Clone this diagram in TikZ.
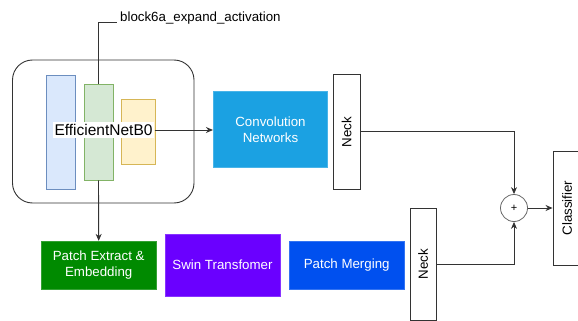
\documentclass[tikz,border=0pt]{standalone}
\usepackage{fontspec}
\setmainfont{Liberation Sans}
\usetikzlibrary{arrows.meta}

\definecolor{lineC}{HTML}{333333}
\definecolor{barBlueF}{HTML}{DAE8FC}\definecolor{barBlueD}{HTML}{6C8EBF}
\definecolor{barGreenF}{HTML}{D5E8D4}\definecolor{barGreenD}{HTML}{82B366}
\definecolor{barYellowF}{HTML}{FFF2CC}\definecolor{barYellowD}{HTML}{D6B656}
\definecolor{convC}{HTML}{1BA1E2}
\definecolor{extractC}{HTML}{008A00}
\definecolor{swinC}{HTML}{6A00FF}
\definecolor{mergeC}{HTML}{0050EF}
\definecolor{circC}{HTML}{666666}

\tikzset{
  x=1pt, y=-1pt,
  every node/.style={font=\fontsize{13.3}{16}\selectfont, inner sep=0pt, align=center},
  conn/.style={draw=lineC, line width=0.9pt},
  arr/.style={conn, -{Stealth[length=7pt,width=6pt]}},
  bar/.style={draw=#1D, fill=#1F, line width=0.9pt},
  solid box/.style={fill=#1, draw=#1!80!white, line width=0.6pt, text=white},
  plain box/.style={draw=lineC, fill=white, line width=0.9pt},
}

\begin{document}
\begin{tikzpicture}
\useasboundingbox (0,0) rectangle (578,321);

% backbone frame with its three stages
\node (frame) [draw=lineC, line width=0.9pt, rounded corners=20pt,
  minimum width=181.5, minimum height=143] at (103.25,131.5) {};
\node (stageA) [bar=barBlue, minimum width=29, minimum height=114] at (60.5,132) {};
\node (stageB) [bar=barGreen, minimum width=29, minimum height=96] at (98.5,132) {};
\node (stageC) [bar=barYellow, minimum width=34, minimum height=64.5] at (138,132) {};
\node (effnet) [fill=white, inner xsep=2pt, inner ysep=2pt,
  font=\fontsize{15.5}{18}\selectfont] at (103.5,130) {EfficientNetB0};

% tap point label
\coordinate (tapEnd) at (117,22.5);
\node (tap) [anchor=west] at (120,18) {block6a\_expand\_activation};

% CNN branch
\node (conv) [solid box=convC, minimum width=114.5, minimum height=75.5]
  at (270.5,129.5) {Convolution\\Networks};
\node (neckA) [plain box, minimum width=27, minimum height=114.5] at (346.5,132) {};
\node [rotate=90] at (neckA.center) {Neck};

% transformer branch
\node (extract) [solid box=extractC, minimum width=114.7, minimum height=47.7]
  at (98.7,265) {Patch Extract \&\\Embedding};
\node (swin) [solid box=swinC, minimum width=115, minimum height=62]
  at (222.5,265) {Swin Transfomer};
\node (merge) [solid box=mergeC, minimum width=114.7, minimum height=47.7]
  at (346.7,265) {Patch Merging};
\node (neckB) [plain box, minimum width=26, minimum height=112] at (423,264) {};
\node [rotate=90] at (neckB.center) {Neck};

% fusion and head
\node (sum) [circle, draw=circC, line width=0.8pt, minimum size=27,
  font=\fontsize{11}{12}\selectfont] at (514,208) {+};
\node (cls) [plain box, minimum width=28, minimum height=114] at (567,208) {};
\node [rotate=90] at (cls.center) {Classifier};

% connectors
\draw[conn] (stageB.north) -- (98.5,22.5) -- (tapEnd);
\draw[arr] (effnet.east) -- (conv.west |- effnet.east);
\draw[arr] (stageB.south) -- (extract.north);
\draw[arr] (neckA.east |- 0,131) -| (sum.north);
\draw[arr] (neckB.east) -| (sum.south);
\draw[arr] (sum.east) -- (cls.west |- sum.east);
\end{tikzpicture}
\end{document}
